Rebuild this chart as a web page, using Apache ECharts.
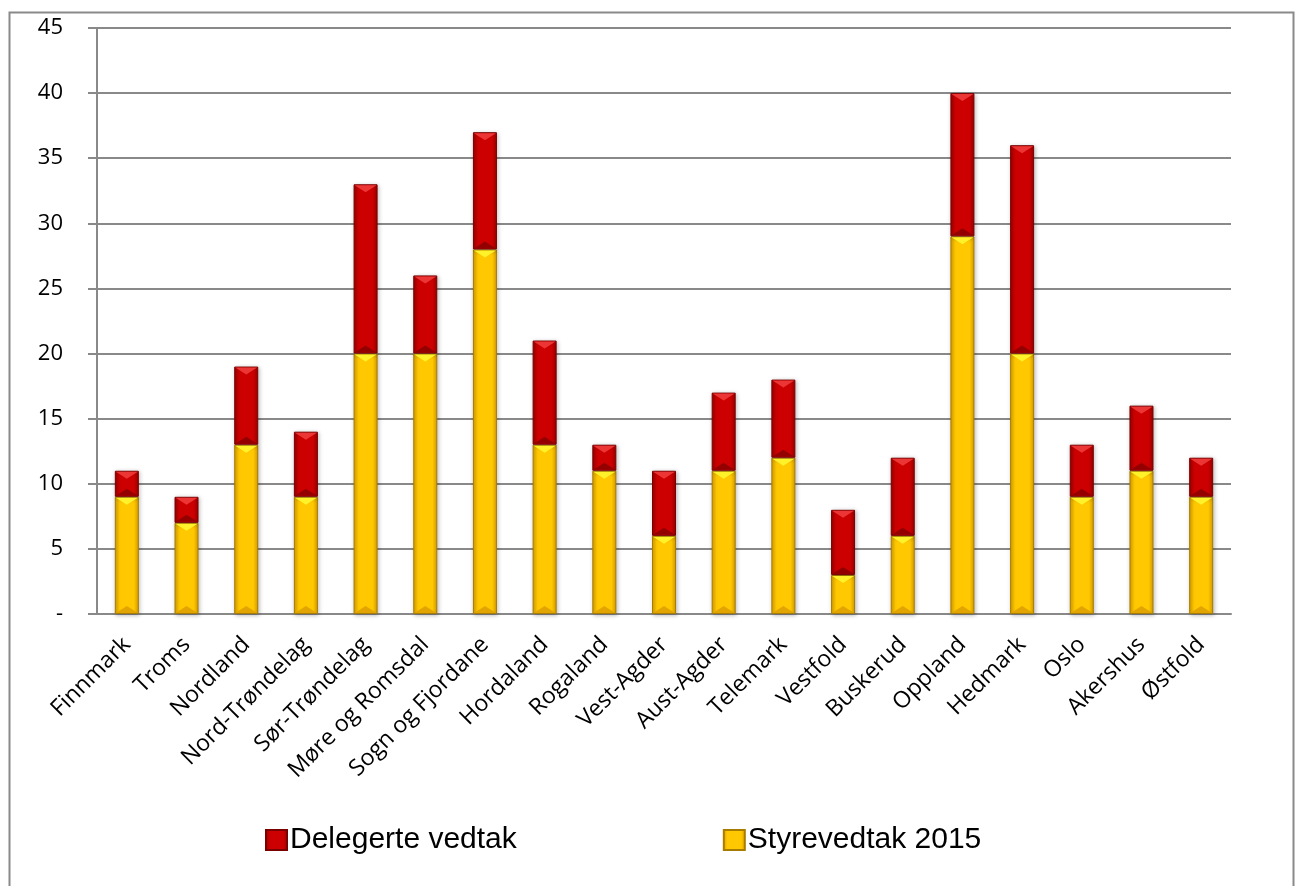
<!DOCTYPE html>
<html>
<head>
<meta charset="utf-8">
<script src="https://cdn.jsdelivr.net/npm/echarts@6/dist/echarts.min.js"></script>
<style>
  html, body { margin: 0; padding: 0; background: #fff; }
  #chart { width: 1298px; height: 886px; }
</style>
</head>
<body>
<div id="chart"></div>
<script>
const categories = ['Finnmark', 'Troms', 'Nordland', 'Nord-Trøndelag', 'Sør-Trøndelag', 'Møre og Romsdal',
  'Sogn og Fjordane', 'Hordaland', 'Rogaland', 'Vest-Agder', 'Aust-Agder', 'Telemark', 'Vestfold',
  'Buskerud', 'Oppland', 'Hedmark', 'Oslo', 'Akershus', 'Østfold']
const styrevedtak = [9, 7, 13, 9, 20, 20, 28, 13, 11, 6, 11, 12, 3, 6, 29, 20, 9, 11, 9]
const delegerte = [2, 2, 6, 5, 13, 6, 9, 8, 2, 5, 6, 6, 5, 6, 11, 16, 4, 5, 3]

const gridColor = '#898989'
const BAR_W = 24

// 水平渐变模拟立体柱
const barGradient = (edge, mid) => ({
  type: 'linear', x: 0, y: 0, x2: 1, y2: 0,
  colorStops: [
    { offset: 0, color: edge },
    { offset: 0.2, color: mid },
    { offset: 0.8, color: mid },
    { offset: 1, color: edge }
  ]
})

// 每段柱子的上下斜面(三角形)
const bevelItem = (topColor, bottomColor) => (params, api) => {
  const i = api.value(0)
  const lo = api.coord([i, api.value(1)])
  const hi = api.coord([i, api.value(2)])
  const x0 = lo[0] - BAR_W / 2
  const x1 = lo[0] + BAR_W / 2
  const h = Math.min(8, (lo[1] - hi[1]) / 2)
  return {
    type: 'group',
    children: [
      {
        type: 'polygon',
        shape: { points: [[x0 + 1, hi[1] + 1], [x1 - 1, hi[1] + 1], [lo[0], hi[1] + h]] },
        style: { fill: topColor }
      },
      {
        type: 'polygon',
        shape: { points: [[x0 + 1, lo[1] - 1], [x1 - 1, lo[1] - 1], [lo[0], lo[1] - h]] },
        style: { fill: bottomColor }
      }
    ]
  }
}

const yellowSeg = styrevedtak.map((v, i) => [i, 0, v])
const redSeg = delegerte.map((v, i) => [i, styrevedtak[i], styrevedtak[i] + v])

const chart = echarts.init(document.getElementById('chart'))
chart.setOption({
  animation: false,
  backgroundColor: '#fff',
  graphic: [{
    type: 'rect',
    shape: { x: 9.5, y: 12.5, width: 1284, height: 880 },
    style: { fill: 'none', stroke: '#8a8a8a', lineWidth: 2 },
    z: -1
  }],
  grid: { left: 97, right: 67, top: 28, bottom: 272 },
  legend: {
    data: ['Delegerte vedtak', 'Styrevedtak 2015'],
    left: 260,
    top: 820,
    icon: 'rect',
    itemWidth: 21,
    itemHeight: 20,
    itemGap: 206,
    textStyle: {
      fontFamily: '"Liberation Sans", Arial',
      fontSize: 30,
      color: '#000',
      padding: [0, 0, 0, -2]
    }
  },
  xAxis: {
    type: 'category',
    data: categories,
    axisLine: { lineStyle: { color: gridColor, width: 2 } },
    axisTick: { length: 8, lineStyle: { color: gridColor, width: 2 } },
    axisLabel: {
      rotate: 45,
      interval: 0,
      margin: 27,
      color: '#000',
      fontFamily: '"Open Sans", sans-serif',
      fontSize: 23
    }
  },
  yAxis: {
    type: 'value',
    min: 0,
    max: 45,
    interval: 5,
    axisLine: { show: true, lineStyle: { color: gridColor, width: 2 } },
    axisTick: { show: true, length: 9, lineStyle: { color: gridColor, width: 2 } },
    splitLine: { lineStyle: { color: gridColor, width: 2 } },
    axisLabel: {
      margin: 34,
      color: '#000',
      fontFamily: '"Open Sans", sans-serif',
      fontSize: 22,
      formatter: (v) => (v === 0 ? '-' : v)
    }
  },
  series: [
    {
      name: 'Styrevedtak 2015',
      type: 'bar',
      stack: 'total',
      barWidth: BAR_W,
      data: styrevedtak,
      itemStyle: {
        color: barGradient('#d79e00', '#ffc800'),
        borderColor: '#a87c00',
        borderWidth: 1,
        shadowColor: 'rgba(0,0,0,0.25)',
        shadowBlur: 4,
        shadowOffsetX: 1,
        shadowOffsetY: 1
      }
    },
    {
      name: 'Delegerte vedtak',
      type: 'bar',
      stack: 'total',
      barWidth: BAR_W,
      data: delegerte,
      itemStyle: {
        color: barGradient('#980000', '#cc0000'),
        borderColor: '#7a0000',
        borderWidth: 1,
        shadowColor: 'rgba(0,0,0,0.25)',
        shadowBlur: 4,
        shadowOffsetX: 1,
        shadowOffsetY: 1
      }
    },
    {
      type: 'custom',
      silent: true,
      z: 3,
      data: yellowSeg,
      encode: { x: 0, y: [1, 2] },
      renderItem: bevelItem('#fff22a', '#e2a400')
    },
    {
      type: 'custom',
      silent: true,
      z: 3,
      data: redSeg,
      encode: { x: 0, y: [1, 2] },
      renderItem: bevelItem('#ec3535', '#940000')
    }
  ]
})
</script>
</body>
</html>
